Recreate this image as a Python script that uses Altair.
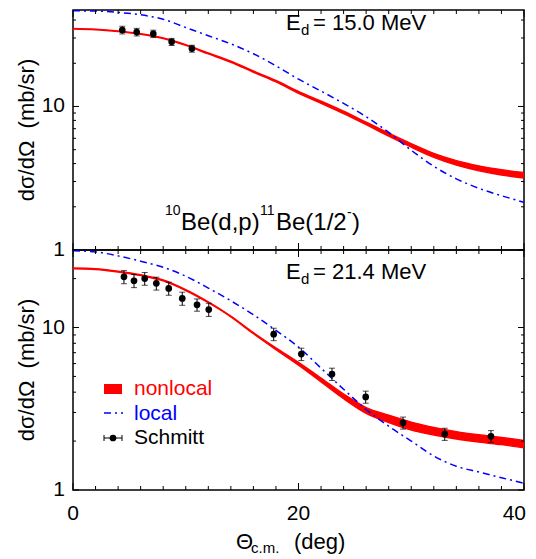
import altair as alt
import pandas as pd

# ---------------- values ----------------
theta = [0, 2, 4, 6, 8, 10, 12, 14, 16, 18, 20, 22, 24, 26, 28, 30, 32, 34, 36, 38, 40]

# E_d = 15.0 MeV
nonlocal15_lo = [34.6, 34.2, 33.2, 31.8, 29.7, 26.6, 23.2, 20.3, 17.3, 14.8, 12.35,
                 10.5, 8.92, 7.46, 6.2, 5.2, 4.42, 3.9, 3.56, 3.33, 3.17]
nonlocal15_hi = [35.0, 34.6, 33.6, 32.2, 30.1, 27.0, 23.6, 20.7, 17.7, 15.2, 12.75,
                 10.9, 9.28, 7.78, 6.52, 5.52, 4.72, 4.2, 3.86, 3.63, 3.47]
local15 = [46.4, 46.2, 45.2, 43.5, 40.5, 35.5, 31.1, 27.3, 23.3, 19.2, 15.5,
           12.8, 10.5, 8.48, 6.6, 4.95, 3.83, 3.13, 2.69, 2.39, 2.15]
exp15_theta = [4.37, 5.65, 7.12, 8.75, 10.55]
exp15_val = [34.1, 33.0, 32.1, 28.2, 25.3]
exp15_err = [2.1, 2.0, 1.9, 1.6, 1.4]

# E_d = 21.4 MeV
nonlocal21_lo = [22.95, 22.75, 21.95, 20.85, 19.35, 16.88, 14.2, 11.62, 9.15, 7.3, 5.86,
                 4.62, 3.64, 2.96, 2.60, 2.34, 2.18, 2.06, 1.97, 1.90, 1.82]
nonlocal21_hi = [23.25, 23.05, 22.25, 21.15, 19.65, 17.12, 14.4, 11.78, 9.31, 7.5, 6.1,
                 4.89, 3.90, 3.22, 2.89, 2.62, 2.43, 2.29, 2.19, 2.11, 2.02]
local21 = [29.7, 29.2, 27.6, 25.6, 23.5, 20.7, 17.5, 14.6, 12.0, 9.6, 7.58,
           5.62, 4.17, 3.13, 2.47, 2.00, 1.62, 1.40, 1.29, 1.19, 1.10]
exp21_theta = [4.52, 5.41, 6.36, 7.39, 8.49, 9.69, 11.0, 12.04,
               17.8, 20.25, 22.97, 25.96, 29.27, 32.97, 37.07]
exp21_val = [20.5, 19.4, 20.0, 18.7, 17.4, 15.1, 13.8, 12.9,
             9.1, 6.86, 5.17, 3.74, 2.59, 2.21, 2.14]
exp21_err = [1.9, 1.8, 1.8, 1.7, 1.6, 1.4, 1.2, 1.2,
             0.8, 0.6, 0.45, 0.32, 0.22, 0.19, 0.18]

x_major = [0, 20, 40]
x_minor = [v for v in range(0, 41, 2) if v % 20 != 0]
y_major = [1, 10]
y_minor_all = [2, 3, 4, 5, 6, 7, 8, 9, 20, 30, 40]

legend_names = ["nonlocal", "local", "Schmitt"]
y_title = "dσ/dΩ\u00a0\u00a0(mb/sr)"

# ---------------- styling ----------------
RED = "#ff0000"
BLUE = "#0000ff"
FONT = "Liberation Sans"
FS = 21
W = 451
H_TOP = 240
H_BOT = 240


def txt(s, x, y, size=FS, color="black", align="left", baseline="alphabetic", angle=0):
    return alt.Chart(pd.DataFrame({"t": [s]})).mark_text(
        align=align, baseline=baseline, font=FONT, fontSize=size, color=color, angle=angle
    ).encode(x=alt.value(x), y=alt.value(y), text="t:N")


def tick_layers(xs, ys, h, y_minor):
    """Inward-pointing ticks on all four sides, placed by the scales."""
    out = []
    for vals, ln in ((x_major, 7), (x_minor, 4)):
        d = pd.DataFrame({"v": vals})
        for y0, y1 in ((h, h - ln), (0, ln)):
            out.append(alt.Chart(d).mark_rule(color="black", strokeWidth=1).encode(
                x=alt.X("v:Q", scale=xs, axis=None),
                y=alt.value(y0), y2=alt.value(y1)))
    for vals, ln in ((y_major, 6), (y_minor, 3)):
        d = pd.DataFrame({"v": vals})
        for x0, x1 in ((0, ln), (W, W - ln)):
            out.append(alt.Chart(d).mark_rule(color="black", strokeWidth=1).encode(
                y=alt.Y("v:Q", scale=ys, axis=None),
                x=alt.value(x0), x2=alt.value(x1)))
    return out


def label_layers(xs, ys, h, bottom):
    """Tick labels and y title, placed by the scales (drawn as text)."""
    out = [
        alt.Chart(pd.DataFrame({"v": y_major, "t": [str(v) for v in y_major]})).mark_text(
            align="right", baseline="middle", font=FONT, fontSize=FS, color="black"
        ).encode(y=alt.Y("v:Q", scale=ys, axis=None), x=alt.value(-8), text="t:N"),
        txt(y_title, -46, h / 2, size=22, align="center", baseline="middle", angle=270),
    ]
    if bottom:
        inner = [v for v in x_major if v != x_major[-1]]
        out.append(alt.Chart(pd.DataFrame({"v": inner, "t": [str(v) for v in inner]})).mark_text(
            align="center", baseline="middle", font=FONT, fontSize=FS, color="black"
        ).encode(x=alt.X("v:Q", scale=xs, axis=None), y=alt.value(h + 24), text="t:N"))
        out.append(alt.Chart(pd.DataFrame({"v": [x_major[-1]], "t": [str(x_major[-1])]})).mark_text(
            align="right", baseline="middle", font=FONT, fontSize=FS, color="black", dx=2
        ).encode(x=alt.X("v:Q", scale=xs, axis=None), y=alt.value(h + 24), text="t:N"))
    return out


def panel(lo, hi, loc, et, ev, ee, ytop, h, bottom, extra):
    curve = pd.DataFrame({"theta": theta, "lo": lo, "hi": hi, "loc": loc})
    pts = pd.DataFrame({"theta": et, "v": ev,
                        "elo": [v - e for v, e in zip(ev, ee)],
                        "ehi": [v + e for v, e in zip(ev, ee)]})
    caps = pd.concat([
        pd.DataFrame({"theta": et, "c": pts["elo"]}),
        pd.DataFrame({"theta": et, "c": pts["ehi"]}),
    ])
    xs = alt.Scale(domain=[0, 40], nice=False, zero=False)
    ys = alt.Scale(type="log", domain=[1, ytop], nice=False)
    y_minor = [v for v in y_minor_all if v <= ytop]

    band = alt.Chart(curve).mark_area(
        color=RED, stroke=RED, strokeWidth=1.3, opacity=1, interpolate="monotone", clip=True
    ).encode(
        x=alt.X("theta:Q", scale=xs, axis=None),
        y=alt.Y("lo:Q", scale=ys, axis=None),
        y2="hi:Q",
    )
    blue = alt.Chart(curve).mark_line(
        color=BLUE, strokeWidth=1.5, strokeDash=[7, 4, 2, 4], interpolate="monotone", clip=True
    ).encode(
        x=alt.X("theta:Q", scale=xs, axis=None),
        y=alt.Y("loc:Q", scale=ys, axis=None),
    )
    err = alt.Chart(pts).mark_rule(color="black", strokeWidth=1).encode(
        x=alt.X("theta:Q", scale=xs, axis=None),
        y=alt.Y("elo:Q", scale=ys, axis=None),
        y2="ehi:Q",
    )
    cap = alt.Chart(caps).mark_tick(color="black", size=6, thickness=1, orient="horizontal").encode(
        x=alt.X("theta:Q", scale=xs, axis=None),
        y=alt.Y("c:Q", scale=ys, axis=None),
    )
    dots = alt.Chart(pts).mark_circle(size=45, color="black", opacity=1).encode(
        x=alt.X("theta:Q", scale=xs, axis=None),
        y=alt.Y("v:Q", scale=ys, axis=None),
    )
    return alt.layer(band, blue, err, cap, dots,
                     *tick_layers(xs, ys, h, y_minor),
                     *label_layers(xs, ys, h, bottom),
                     *extra).properties(width=W, height=h)


top_extra = [
    txt("E", 213, 20, size=22),
    txt("d", 228, 25, size=15),
    txt("= 15.0 MeV", 240, 20, size=22),
    txt("10", 92, 205, size=14),
    txt("Be(d,p)", 108, 220, size=24),
    txt("11", 187, 205, size=14),
    txt("Be(1/2", 203, 220, size=24),
    txt("-", 274, 207, size=14),
    txt(")", 279, 220, size=24),
]

one = pd.DataFrame({"n": [0]})
leg_rect = alt.Chart(one).mark_rect(color=RED).encode(
    x=alt.value(31), x2=alt.value(49), y=alt.value(134), y2=alt.value(144))
leg_line = alt.Chart(one).mark_rule(
    color=BLUE, strokeWidth=1.5, strokeDash=[7, 4, 2, 4]).encode(
    x=alt.value(31), x2=alt.value(50), y=alt.value(163))
leg_eb = alt.Chart(one).mark_rule(color="black", strokeWidth=1).encode(
    x=alt.value(31), x2=alt.value(49), y=alt.value(188))
leg_cap1 = alt.Chart(one).mark_rule(color="black", strokeWidth=1).encode(
    x=alt.value(31), y=alt.value(185), y2=alt.value(191))
leg_cap2 = alt.Chart(one).mark_rule(color="black", strokeWidth=1).encode(
    x=alt.value(49), y=alt.value(185), y2=alt.value(191))
leg_dot = alt.Chart(one).mark_circle(size=45, color="black", opacity=1).encode(
    x=alt.value(40), y=alt.value(188))

bot_extra = [
    txt("E", 213, 29, size=22),
    txt("d", 228, 34, size=15),
    txt("= 21.4 MeV", 240, 29, size=22),
    leg_rect, leg_line, leg_eb, leg_cap1, leg_cap2, leg_dot,
    txt(legend_names[0], 61, 139, color=RED, baseline="middle"),
    txt(legend_names[1], 61, 164, color=BLUE, baseline="middle"),
    txt(legend_names[2], 61, 188, color="black", baseline="middle"),
    txt("Θ", 163, 292, size=22, baseline="middle"),
    txt("c.m.", 178, 298, size=15, baseline="middle"),
    txt("(deg)", 221, 292, size=22, baseline="middle"),
]

top = panel(nonlocal15_lo, nonlocal15_hi, local15, exp15_theta, exp15_val, exp15_err,
            47, H_TOP, False, top_extra)
bottom = panel(nonlocal21_lo, nonlocal21_hi, local21, exp21_theta, exp21_val, exp21_err,
               30, H_BOT, True, bot_extra)

chart = alt.vconcat(top, bottom, spacing=0, bounds="flush").properties(
    padding={"left": 7, "top": 0, "right": 0, "bottom": 0}
).configure_view(stroke="black", strokeWidth=1.5)

chart.save("out.html", embed_options={"renderer": "svg", "actions": False})
